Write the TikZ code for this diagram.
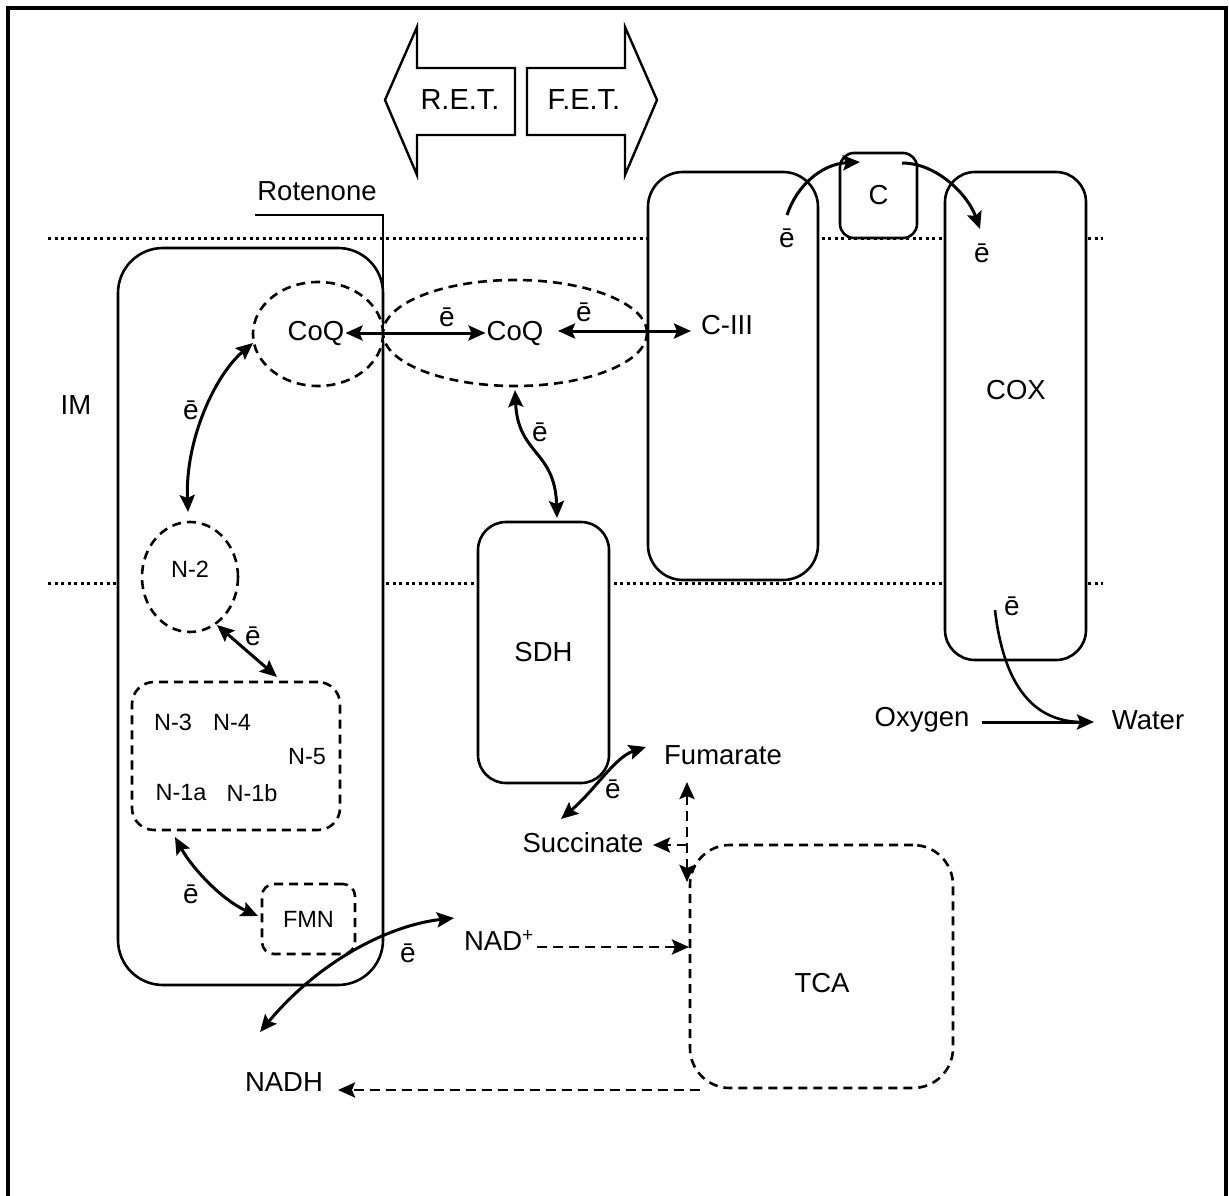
\documentclass[tikz,border=0pt]{standalone}
\usepackage{fontspec}
\setmainfont{Liberation Sans}
\usetikzlibrary{arrows.meta,shapes.geometric}
\begin{document}
\begin{tikzpicture}[x=1pt,y=-1pt,
  box/.style={draw,line width=2.6pt,rounded corners=#1,inner sep=0pt,fill=white},
  dbox/.style={draw,line width=2.6pt,dash pattern=on 9pt off 6pt,rounded corners=#1,inner sep=0pt,fill=white},
  dell/.style={draw,ellipse,line width=2.6pt,dash pattern=on 9pt off 6pt,inner sep=0pt,fill=white},
  lbl/.style={font=\fontsize{27.5}{30}\selectfont,inner sep=1pt},
  slbl/.style={font=\fontsize{23.5}{26}\selectfont,inner sep=1pt},
  el/.style={font=\fontsize{28}{30}\selectfont,inner sep=0pt},
  arr/.style={line width=3pt,-{Stealth[length=17pt,width=15pt,inset=3pt]}},
  darr/.style={line width=3pt,{Stealth[length=17pt,width=15pt,inset=3pt]}-{Stealth[length=17pt,width=15pt,inset=3pt]}},
  dsharr/.style={arr,line width=2.8pt,dash pattern=on 10pt off 6pt},
  dshdarr/.style={darr,line width=2.8pt,dash pattern=on 10pt off 6pt},
  dotline/.style={line width=3pt,dash pattern=on 3pt off 3.5pt},
  blk/.style={draw,line width=2.4pt,line join=miter}
]
\useasboundingbox (0,0) rectangle (1229,1196);
% frame
\draw[line width=4pt] (8,1200) -- (8,8) -- (1226,8) -- (1226,1200);

% membranes
\draw[dotline] (48,238) -- (1103,238);
\draw[dotline] (48,583) -- (1103,583);

% block arrows
\draw[blk] (515,68) -- (417,68) -- (417,27) -- (385,100) -- (417,175) -- (417,135) -- (515,135) -- cycle;
\draw[blk] (527,68) -- (625,68) -- (625,27) -- (657,100) -- (625,175) -- (625,135) -- (527,135) -- cycle;
\node[font=\fontsize{29}{30}\selectfont] (ret) at (460,100) {R.E.T.};
\node[font=\fontsize{29}{30}\selectfont] (fet) at (584,100) {F.E.T.};

% boxes
\node[box=45pt,minimum width=265pt,minimum height=737pt] (c1) at (250.5,616.5) {};
\node[box=35pt,minimum width=170pt,minimum height=408pt] (c3box) at (733,376) {};
\node[box=14pt,minimum width=77pt,minimum height=85pt,lbl] (cc) at (878.5,195.5) {C};
\node[box=30pt,minimum width=141pt,minimum height=488pt] (cox) at (1015.5,416) {};
\node[box=28pt,minimum width=131pt,minimum height=261pt,lbl] (sdh) at (543.5,652.5) {SDH};
\node[dbox=40pt,minimum width=263pt,minimum height=243pt] (tca) at (821.5,966.5) {};
\node[dbox=22pt,minimum width=208pt,minimum height=148pt] (fes) at (236,756) {};
\node[dbox=12pt,minimum width=93pt,minimum height=70pt,slbl] (fmn) at (308.5,919) {FMN};
\node[dell,minimum width=96pt,minimum height=110pt] (n2) at (190,577) {};
\node[dell,minimum width=130pt,minimum height=104pt] (q1) at (318,334) {};
\node[dell,minimum width=264pt,minimum height=106pt] (q2) at (515,333) {};

% rotenone
\node[lbl] (rot) at (317,191) {Rotenone};
\coordinate (rotA) at (255,215);
\coordinate (rotB) at (383,215);
\coordinate (rotC) at (383,420);
\draw[line width=2.6pt] (rotA) -- (rotB) -- (rotC);

% labels
\node[lbl] (q1t) at (316,333) {CoQ};
\node[lbl] (q2t) at (515,333) {CoQ};
\node[lbl] (c3) at (727,325) {C-III};
\node[lbl] (coxt) at (1016,390) {COX};
\node[lbl] (tcat) at (822,983) {TCA};
\node[lbl] (im) at (76,405) {IM};
\node[slbl] (n2t) at (190,569) {N-2};
\node[slbl] (n3) at (173,722) {N-3};
\node[slbl] (n4) at (232,722) {N-4};
\node[slbl] (n5) at (307,757) {N-5};
\node[slbl] (n1a) at (181,793) {N-1a};
\node[slbl] (n1b) at (252,793) {N-1b};
\node[lbl] (oxy) at (922,720) {Oxygen};
\node[lbl] (wat) at (1148,720) {Water};
\node[lbl] (fum) at (723,755) {Fumarate};
\node[lbl] (suc) at (583,843) {Succinate};
\node[lbl] (nad) at (499,940) {NAD\textsuperscript{+}};
\node[lbl] (nadh) at (284,1082) {NADH};

% electron labels
\node[el] (e1) at (447,317) {ē};
\node[el] (e2) at (584,312) {ē};
\node[el] (e3) at (787,238) {ē};
\node[el] (e4) at (982,253) {ē};
\node[el] (e5) at (191,410) {ē};
\node[el] (e6) at (253,636) {ē};
\node[el] (e7) at (191,894) {ē};
\node[el] (e8) at (408,953) {ē};
\node[el] (e9) at (540,432) {ē};
\node[el] (e10) at (613,789) {ē};
\node[el] (e11) at (1012,606) {ē};

% connector coordinates
\coordinate (a3s) at (787,215);
\coordinate (a3e) at (860,162);
\coordinate (a4s) at (902,163);
\coordinate (a4e) at (980,229);
\coordinate (a5s) at (253,343);
\coordinate (a5e) at (188,512);
\coordinate (a6s) at (217,625);
\coordinate (a6e) at (277,677);
\coordinate (a7s) at (175,837);
\coordinate (a7e) at (258,916);
\coordinate (a8s) at (260,1032);
\coordinate (a8e) at (454,918);
\coordinate (a9s) at (515,390);
\coordinate (a9e) at (557,518);
\coordinate (a10s) at (561,819);
\coordinate (a10e) at (646,747);
\coordinate (vt) at (687,782);
\coordinate (vb) at (687,882);
\coordinate (sj) at (687,845);
\coordinate (sa) at (653,845);
\coordinate (na) at (537,947);
\coordinate (nb) at (689,947);
\coordinate (ta) at (700,1090);
\coordinate (tb) at (338,1090);
\coordinate (oa) at (982,722);
\coordinate (ob) at (1094,722);
\coordinate (xs) at (995,610);
\coordinate (q2r) at (558,331);
\coordinate (c3l) at (691,331);

% connectors
\draw[darr] (q1t.east) -- (q2t.west);
\draw[darr] (q2r) -- (c3l);
\draw[arr] (a3s) .. controls (797,185) and (822,164) .. (a3e);
\draw[arr] (a4s) .. controls (937,163) and (968,195) .. (a4e);
\draw[darr] (a5s) .. controls (215,375) and (185,440) .. (a5e);
\draw[darr] (a6s) -- (a6e);
\draw[darr] (a7s) .. controls (192,868) and (222,900) .. (a7e);
\draw[darr] (a8s) .. controls (320,960) and (390,925) .. (a8e);
\draw[darr] (a9s) .. controls (518,455) and (555,450) .. (a9e);
\draw[darr] (a10s) .. controls (595,790) and (615,757) .. (a10e);
\draw[dshdarr] (vt) -- (vb);
\draw[dsharr] (sj) -- (sa);
\draw[dsharr] (na) -- (nb);
\draw[dsharr] (ta) -- (tb);
\draw[arr] (oa) -- (ob);
\draw[line width=2.6pt] (xs) .. controls (1003,680) and (1030,722) .. (1082,722);
\end{tikzpicture}
\end{document}
